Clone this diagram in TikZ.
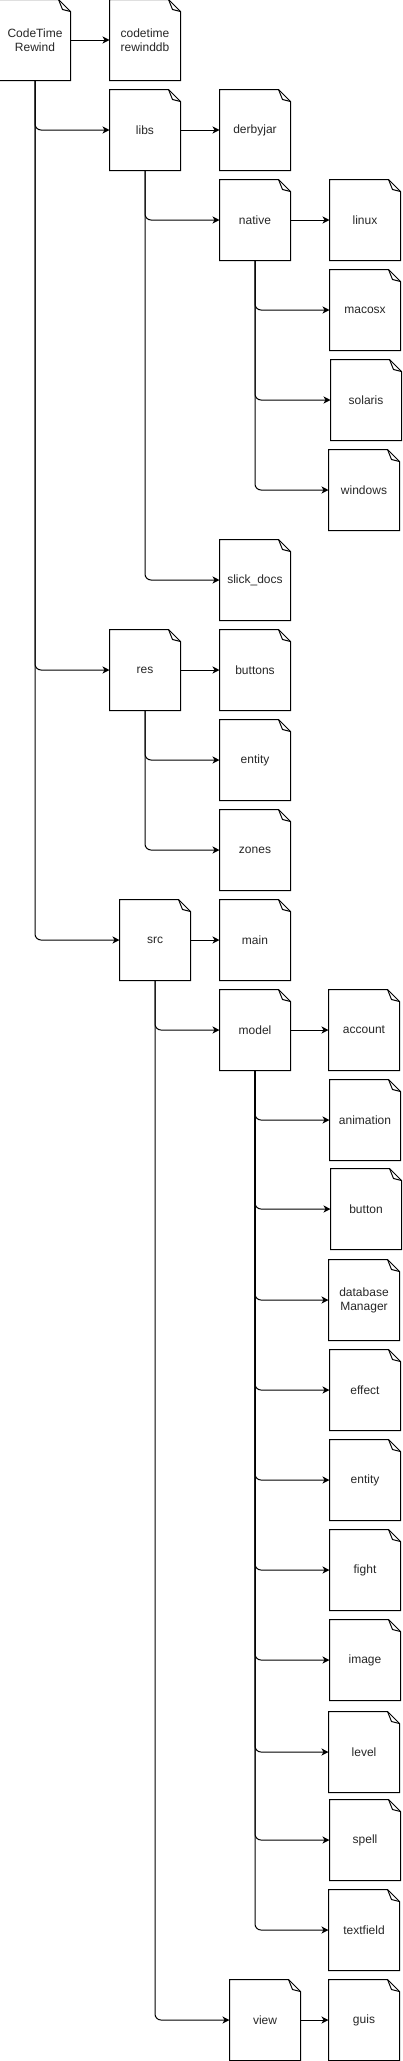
\documentclass[tikz,border=0pt]{standalone}
\usepackage{fontspec}
\setmainfont{Liberation Sans}
\usetikzlibrary{arrows.meta}
\begin{document}
\begin{tikzpicture}[
                x=1pt, y=-1pt,
                line width=1pt,
                doc/.style={minimum width=70pt, minimum height=80pt, inner sep=0pt,
                    align=center, text=black!85, font=\fontsize{12}{14}\selectfont},
                arr/.style={-{Stealth[length=7pt,width=7pt,inset=2pt]}, rounded corners=6pt}
            ]
            \useasboundingbox (0,0) rectangle (402,2061);
            % folders (name/x/y/label), x and y of the top left corner
            \foreach \name/\x/\y/\desc in {
            root/0/0/{CodeTime\\Rewind},
            rewinddb/110/0/{codetime\\rewinddb},
            libs/110/90/{libs},
            derbyjar/220/90/{derbyjar},
            native/220/180/{native},
            linux/330/180/{linux},
            macosx/330/270/{macosx},
            solaris/331/360/{solaris},
            windows/329/450/{windows},
            slickdocs/220/540/{slick\_docs},
            res/110/630/{res},
            buttons/220/630/{buttons},
            entity/220/720/{entity},
            zones/220/810/{zones},
            src/120/900/{src},
            main/220/900/{main},
            model/220/990/{model},
            account/329/990/{account},
            animation/330/1080/{animation},
            button/331/1169/{button},
            dbmanager/329/1260/{database\\Manager},
            effect/330/1350/{effect},
            mentity/330/1440/{entity},
            fight/330/1530/{fight},
            image/330/1620/{image},
            level/329/1712/{level},
            spell/330/1800/{spell},
            textfield/329/1890/{textfield},
            view/230/1980/{view},
            guis/329/1980/{guis}}
            {
            \node[doc] (\name) at (\x+35,\y+40) {\desc};
            \draw[line join=miter] (\name.north west) -- ([xshift=-12pt]\name.north east)
                -- ([yshift=-12pt]\name.north east) -- (\name.south east)
                -- (\name.south west) -- cycle;
            \draw[line join=miter] ([xshift=-12pt]\name.north east)
                -- ([xshift=-8pt,yshift=-10pt]\name.north east) -- ([yshift=-12pt]\name.north east);
            }
            % straight arrows
            \foreach \a/\b in {root/rewinddb, libs/derbyjar, native/linux, res/buttons,
            src/main, model/account, view/guis}
            {
            \draw[arr] (\a) -- (\b);
            }
            % branch arrows
            \foreach \a/\b in {root/libs, root/res, root/src,
            libs/native, libs/slickdocs,
            native/macosx, native/solaris, native/windows,
            res/entity, res/zones,
            src/model, src/view,
            model/animation, model/button, model/dbmanager, model/effect, model/mentity,
            model/fight, model/image, model/level, model/spell, model/textfield}
            {
            \draw[arr] (\a.south) |- (\b.west);
            }
        \end{tikzpicture}
\end{document}
